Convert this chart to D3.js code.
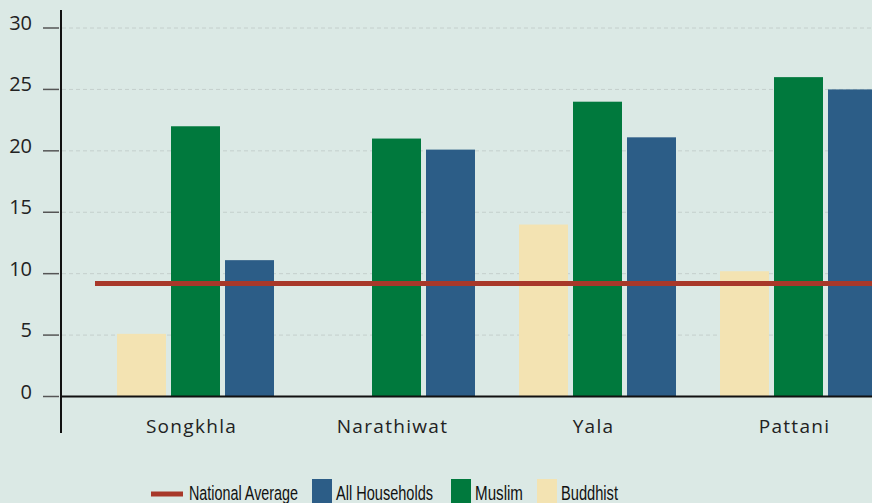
<!DOCTYPE html>
<html>
<head>
<meta charset="utf-8">
<script src="https://cdn.jsdelivr.net/npm/d3@7"></script>
<style>
  body { margin: 0; background: #dbe9e5; }
  svg { display: block; }
  .tick-label { font-family: "Open Sans", sans-serif; font-size: 20px; fill: #222; }
  .cat-label { font-family: "Open Sans", sans-serif; font-size: 19px; fill: #222; letter-spacing: 1.3px; }
  .legend-text { font-family: "Liberation Sans", "Roboto", sans-serif; font-size: 20.5px; fill: #111; }
</style>
</head>
<body>
<div id="chart"></div>
<script>
// provinces and series
var provinces = ["Songkhla", "Narathiwat", "Yala", "Pattani"];
var seriesNames = ["Buddhist", "Muslim", "All Households"];
var buddhist = [5.1, null, 14, 10.2];
var muslim = [22, 21, 24, 26];
var allHouseholds = [11.1, 20.1, 21.1, 25];
var nationalAverage = 9.2;
var yTicks = [0, 5, 10, 15, 20, 25, 30];

var colors = {
  "Buddhist": "#f3e3b2",
  "Muslim": "#00793d",
  "All Households": "#2c5d87",
  "National Average": "#a8382a"
};

var width = 872, height = 503;

var svg = d3.select("#chart")
  .append("svg")
  .attr("width", width)
  .attr("height", height);

svg.append("rect")
  .attr("width", width)
  .attr("height", height)
  .attr("fill", "#dbe9e5");

var y = d3.scaleLinear().domain([0, 30]).range([396.5, 28]);

// groups: step ~201, bars 49 wide with 5px gaps
var x0 = d3.scaleBand()
  .domain(provinces)
  .range([95, 899])
  .paddingInner(44 / 201)
  .paddingOuter(22 / 201);

var x1 = d3.scaleBand()
  .domain(seriesNames)
  .range([0, x0.bandwidth()])
  .paddingInner(5 / 54)
  .paddingOuter(0);

// dashed gridlines
svg.append("g")
  .selectAll("line")
  .data(yTicks.filter(function(d) { return d > 0; }))
  .enter()
  .append("line")
  .attr("x1", 62)
  .attr("x2", width)
  .attr("y1", function(d) { return y(d); })
  .attr("y2", function(d) { return y(d); })
  .attr("stroke", "#c4cfcc")
  .attr("stroke-width", 1)
  .attr("stroke-dasharray", "4,3");

// bars
var rows = provinces.map(function(p, i) {
  return { province: p, values: [
    { key: "Buddhist", value: buddhist[i] },
    { key: "Muslim", value: muslim[i] },
    { key: "All Households", value: allHouseholds[i] }
  ] };
});

var groups = svg.append("g")
  .selectAll("g")
  .data(rows)
  .enter()
  .append("g")
  .attr("transform", function(d) { return "translate(" + x0(d.province) + ",0)"; });

groups.selectAll("rect")
  .data(function(d) { return d.values.filter(function(v) { return v.value != null; }); })
  .enter()
  .append("rect")
  .attr("x", function(d) { return x1(d.key); })
  .attr("y", function(d) { return y(d.value); })
  .attr("width", x1.bandwidth())
  .attr("height", function(d) { return y(0) - y(d.value); })
  .attr("fill", function(d) { return colors[d.key]; });

// national average line
svg.append("line")
  .attr("x1", 95)
  .attr("x2", width)
  .attr("y1", y(nationalAverage))
  .attr("y2", y(nationalAverage))
  .attr("stroke", colors["National Average"])
  .attr("stroke-width", 5);

// axes
svg.append("line")
  .attr("x1", 61).attr("x2", 61)
  .attr("y1", 10).attr("y2", 433)
  .attr("stroke", "#111").attr("stroke-width", 2);

svg.append("line")
  .attr("x1", 61).attr("x2", width)
  .attr("y1", y(0)).attr("y2", y(0))
  .attr("stroke", "#111").attr("stroke-width", 2);

var yAxis = svg.append("g");
yAxis.selectAll("line")
  .data(yTicks)
  .enter()
  .append("line")
  .attr("x1", 43).attr("x2", 59)
  .attr("y1", function(d) { return y(d); })
  .attr("y2", function(d) { return y(d); })
  .attr("stroke", "#555")
  .attr("stroke-width", 1.5);

yAxis.selectAll("text")
  .data(yTicks)
  .enter()
  .append("text")
  .attr("class", "tick-label")
  .attr("x", 32)
  .attr("y", function(d) { return y(d) + 2; })
  .attr("text-anchor", "end")
  .text(function(d) { return d; });

// category labels
svg.append("g")
  .selectAll("text")
  .data(provinces)
  .enter()
  .append("text")
  .attr("class", "cat-label")
  .attr("x", function(d) { return x0(d) + x0.bandwidth() / 2 - 4; })
  .attr("y", 433)
  .attr("text-anchor", "middle")
  .text(function(d) { return d; });

// legend (condensed type: squeeze to the widths seen in the reference)
var legend = svg.append("g");
legend.append("line")
  .attr("x1", 151).attr("x2", 183)
  .attr("y1", 494).attr("y2", 494)
  .attr("stroke", colors["National Average"])
  .attr("stroke-width", 5);

var legendItems = [
  { key: "National Average", x: 189, w: 109, swatch: false },
  { key: "All Households", x: 336, w: 97, swatch: true },
  { key: "Muslim", x: 475, w: 48, swatch: true },
  { key: "Buddhist", x: 561, w: 57, swatch: true }
];

legend.selectAll(".swatch")
  .data(legendItems.filter(function(d) { return d.swatch; }))
  .enter()
  .append("rect")
  .attr("class", "swatch")
  .attr("x", function(d) { return d.x - 24; })
  .attr("y", 479)
  .attr("width", 20)
  .attr("height", 30)
  .attr("fill", function(d) { return colors[d.key]; });

legend.selectAll(".legend-item")
  .data(legendItems)
  .enter()
  .append("text")
  .attr("class", "legend-text legend-item")
  .attr("x", function(d) { return d.x; })
  .attr("y", 500)
  .attr("textLength", function(d) { return d.w; })
  .attr("lengthAdjust", "spacingAndGlyphs")
  .text(function(d) { return d.key; });
</script>
</body>
</html>
